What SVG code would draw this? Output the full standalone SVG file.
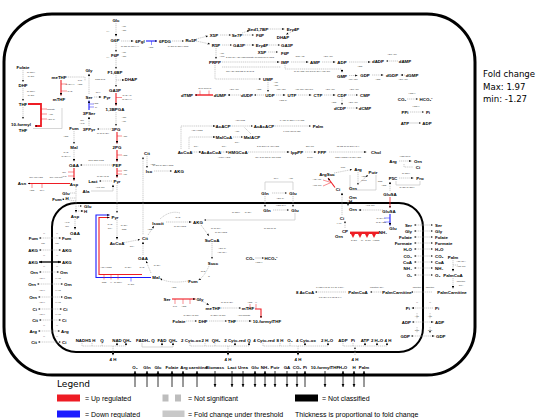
<svg xmlns="http://www.w3.org/2000/svg" width="538" height="418" viewBox="0 0 538 418">
<defs>
<marker id="a" viewBox="0 0 4 4" refX="4" refY="2" markerWidth="2.4" markerHeight="2.4" orient="auto-start-reverse" markerUnits="userSpaceOnUse"><path d="M0,.3L4,2L0,3.7z" fill="#000"/></marker>
<marker id="ar" viewBox="0 0 4 4" refX="4" refY="2" markerWidth="2.6" markerHeight="2.6" orient="auto-start-reverse" markerUnits="userSpaceOnUse"><path d="M0,.3L4,2L0,3.7z" fill="#000"/></marker>
<marker id="ak" viewBox="0 0 4 4" refX="4" refY="2" markerWidth="3.4" markerHeight="3.4" orient="auto-start-reverse" markerUnits="userSpaceOnUse"><path d="M0,.2L4,2L0,3.8z" fill="#000"/></marker>
</defs>
<style>
.m{font-family:"Liberation Sans",Arial,sans-serif;font-weight:bold;font-size:4.4px;text-anchor:middle;fill:#000}
.ml{font-family:"Liberation Sans",Arial,sans-serif;font-weight:bold;font-size:4.4px;text-anchor:end;fill:#000}
.mr{font-family:"Liberation Sans",Arial,sans-serif;font-weight:bold;font-size:4.4px;text-anchor:start;fill:#000}
.c{font-family:"Liberation Sans",Arial,sans-serif;font-size:2.3px;text-anchor:middle;fill:#333}
.g{fill:none;stroke:#a9a9a9;stroke-width:.6;stroke-dasharray:1.2 .7}
.s{fill:none;stroke:#c4c4c4;stroke-width:.7}
.r{fill:none;stroke:#ee1c24;stroke-width:1.1}
.rt{fill:none;stroke:#ee1c24;stroke-width:.5}
.bl{fill:none;stroke:#1a1aff;stroke-width:1.1}
.bt{fill:none;stroke:#1a1aff;stroke-width:.5}
.k{fill:none;stroke:#000;stroke-width:.8}
.e{marker-end:url(#a)}
.st{marker-start:url(#a)}
.ke{marker-end:url(#ak)}
.lg{font-family:"Liberation Sans",Arial,sans-serif;font-size:7px;fill:#000}
</style>
<rect width="538" height="418" fill="#fff"/>

<!-- compartments -->
<g id="cell"><rect x="4" y="14" width="471" height="361" rx="48" fill="none" stroke="#000" stroke-width="3"/></g>
<g id="mitochondrion"><rect x="52" y="203" width="371" height="149" rx="24" fill="none" stroke="#000" stroke-width="2"/></g>

<!-- connectors -->
<g id="connectors">
<!-- glycolysis -->
<path class="g e" d="M116,23V36.5"/>
<path class="g e" d="M116,43V52"/>
<path class="g e" d="M116,58V69"/>
<path class="g e" d="M116,75V87"/>
<path class="g e" d="M116,80H124.5"/>
<path class="r e" d="M116,93V105.5"/>
<path class="rt" d="M116,97.5H122"/>
<path class="g e" d="M116,112V126"/>
<path class="r e" d="M117,132V143.5"/>
<path class="rt" d="M117,136H122"/>
<path class="r e" d="M117,150V161.5"/>
<path class="rt" d="M117,155H122"/>
<path class="r e" d="M117,168V177.5"/>
<path class="rt" d="M117,171H122M117,174H122"/>
<path class="g e" d="M117,185V213"/>
<path class="g e" d="M112,181H99"/>
<path class="s e" d="M91,191H113V184.5"/>
<path class="g e" d="M112,165H80"/>
<!-- PPP -->
<path class="g e" d="M121,41H133.5"/>
<path class="bl e" d="M146,41H157"/>
<path class="bt" d="M151.5,41V45"/>
<path class="g e" d="M172,41H184"/>
<path class="g e" d="M196,39L208,36"/>
<path class="g e" d="M196,41L210,44"/>
<path class="g e" d="M220,35H231"/>
<path class="g e" d="M222,45H232"/>
<path class="g e" d="M242,33L249.5,30.5"/>
<path class="g e" d="M268,29H284.5"/>
<path class="g e" d="M243,35H254"/>
<path class="g e" d="M245,45H254.5"/>
<path class="g e" d="M269,45H280"/>
<path class="g e" d="M268,52H278"/>
<path class="g e" d="M291,32L286,34.5"/>
<path class="g e" d="M216,48V59"/>
<!-- nucleotides -->
<path class="g e" d="M222,62H279.5"/>
<path class="g e" d="M215,65V79H261"/>
<path class="g" d="M222,67H281"/>
<path class="g e" d="M285,65V69H342V72.5"/>
<path class="g e" d="M291,62H308.5"/>
<path class="g e" d="M322,62H335.5"/>
<path class="g e" d="M349,62H370.5"/>
<path class="g e" d="M398,61H386"/>
<path class="g e" d="M349,75.5H357.5"/>
<path class="g e" d="M372,75H383.5"/>
<path class="g e" d="M405,75H400.5"/>
<path class="g e" d="M268,82V92"/>
<path class="g e" d="M264,95H254"/>
<path class="g e" d="M241,95H227.5"/>
<path class="r e" d="M213,95H195" style="stroke-width:1.4"/>
<path class="rt" d="M200,95V90.5M209,95V90.5"/>
<path class="g e" d="M276,95H285.5"/>
<path class="g e" d="M298,95H311.5"/>
<path class="g e" d="M324,95H335.5"/>
<path class="g e" d="M348,95H358"/>
<path class="g e" d="M342,98V105"/>
<path class="g e" d="M347,108H358"/>
<path class="g e" d="M407,99H418"/>
<path class="g e" d="M410,112H424"/>
<path class="s e" d="M410,123H421"/>
<!-- fatty acids / cholesterol -->
<path class="g e" d="M181,149V126H215.5"/>
<path class="g e" d="M189,149V137H215.5"/>
<path class="g e" d="M230,126H253"/>
<path class="g e" d="M233,137H243"/>
<path class="g" d="M251,134L244,127"/>
<path class="g e" d="M275,126H311"/>
<path class="g e" d="M192,152H201.5"/>
<path class="g e" d="M221,152H228"/>
<path class="g e" d="M248,152H289.5"/>
<path class="g e" d="M305,152H316.5"/>
<path class="g e" d="M329,152H366.5"/>
<!-- citrate export -->
<path class="g e" d="M147,156V168"/>
<path class="g e" d="M154,171H172"/>
<path class="g st" d="M143,157V235"/>
<!-- serine / folate -->
<path class="g e" d="M111,129H97"/>
<path class="g e" d="M89,126V116.5"/>
<path class="bl e" d="M89,110V100.5"/>
<path class="bt" d="M89,104H94M89,107H94"/>
<path class="g e" d="M94,97H101.5"/>
<path class="g e" d="M89,94V73.5"/>
<path class="g" d="M66,77H85V81"/>
<path class="g e" d="M23,70V82"/>
<path class="g e" d="M23,88V101"/>
<path class="g e" d="M23,107V119"/>
<path class="r e" d="M28,104H41V126H35" style="stroke-width:1.8"/>
<path class="rt" d="M41,109H47M41,114H47M41,119H47"/>
<path class="s" d="M33,128.5H62V108"/>
<path class="r e" d="M61,80V95.5"/>
<path class="rt" d="M61,84H67M61,91H67"/>
<!-- TCA cytosol / aspartate -->
<path class="g e" d="M74,131V144"/>
<path class="g e" d="M74,150V161.5"/>
<path class="r e" d="M74,168V180.5"/>
<path class="rt" d="M74,172H68M74,176H68"/>
<path class="r e" d="M70,183.5H28"/>
<path class="rt" d="M32,183.5V188M42,183.5V188"/>
<path class="g e" d="M76,187V212.5"/>
<path class="g" d="M70,193H76M70,198H76"/>
<path class="g e" d="M76,201L62,199"/>
<path class="g e" d="M78,206H82"/>
<path class="g e" d="M78,211H83.5"/>
<path class="g e" d="M75,219V229.5"/>
<!-- mitochondrial TCA -->
<path class="g e" d="M117,220V239.5"/>
<path class="bl e" d="M151,277.5H96V215H109.5"/>
<path class="r e" d="M142,274.5H99V217.5H109.5"/>
<path class="rt" d="M104,274.5V279.5M111,274.5V279.5M118,274.5V279.5"/>
<path class="bt" d="M131,277.5V281.5"/>
<path class="g e" d="M122,243L140,239.5"/>
<path class="g e" d="M143,255V241.5"/>
<path class="g e" d="M148,235L154,226"/>
<path class="g e" d="M166,222H191.5"/>
<path class="g e" d="M201,225L209,236"/>
<path class="g e" d="M212,243V259"/>
<path class="g e" d="M209,266Q204,277 198.5,280"/>
<path class="g e" d="M188,281Q170,284 160,278.5"/>
<path class="g e" d="M151,273L146,261"/>
<path class="g" d="M160,219Q170,210 180,213"/>
<!-- glutamine -->
<path class="g e" d="M272,193H287"/>
<path class="s" d="M265,190V182H293V190"/>
<path class="g e" d="M265,196V207"/>
<path class="g e" d="M293,196V207"/>
<path class="g e" d="M273,210H289"/>
<path class="s e" d="M295,213V220H204"/>
<path class="s e" d="M255,258H264"/>
<!-- urea / proline -->
<path class="g e" d="M345,228V221"/>
<rect x="350" y="231.6" width="29" height="2.4" fill="#ee1c24"/>
<path d="M351,234l2,4l2,-4zM358,234l2,4l2,-4zM365,234l2,4l2,-4zM372,234l2,4l2,-4z" fill="#ee1c24"/>
<path class="g e" d="M342,215V192.5"/>
<path class="g e" d="M348,200V206"/>
<path class="r e" d="M335,187.5L328,178"/>
<path class="rt" d="M331,182.5L323,180M331,182.5L323,186"/>
<path class="g e" d="M334,173L352,169.5"/>
<path class="g e" d="M358,172V185"/>
<path class="g e" d="M357,185L368,175"/>
<path class="s" d="M350,175V190H376V175"/>
<path class="g e" d="M399,161H411.5"/>
<path class="g" d="M404,164V167H413"/>
<path class="g e" d="M399,178H413.5"/>
<path class="s" d="M396,181V185H420V181"/>
<path class="g e" d="M390,191V181.5"/>
<path class="r e" d="M390,197V208" style="stroke-width:.8"/>
<path class="bl e" d="M390,214V225.5"/>
<path class="bt" d="M390,218H384M390,222H384"/>
<path class="g e" d="M383,210H358.5"/>
<!-- right transport -->
<path class="g e st" d="M414,225H433"/>
<path class="g e st" d="M414,231H433"/>
<path class="g e st" d="M414,237H433"/>
<path class="g e st" d="M414,243H433"/>
<path class="g e st" d="M414,249H433"/>
<path class="g e st" d="M414,256H433"/>
<path class="g e st" d="M414,262H433"/>
<path class="g e st" d="M414,268H433"/>
<path class="g e st" d="M414,275H433"/>
<path class="g e" d="M453,260V271.5"/>
<path class="g" d="M453,265H458"/>
<path class="g e" d="M453,278V288.5"/>
<path class="g e" d="M432,292H411"/>
<path class="g e" d="M383,292H370"/>
<path class="g e" d="M346,292H315"/>
<path class="g e" d="M433,308H411.5"/>
<path class="g e st" d="M412,322H433.5"/>
<path class="g e st" d="M411,336H434.5"/>
<path class="g e" d="M417,313V319M430,313V319M417,327V333M430,327V333"/>
<!-- mito folate -->
<path class="r e" d="M172,299H195.5"/>
<path class="rt" d="M175,299V304M183,299V304M190,299V304"/>
<path class="g e" d="M203,301.5L209,305"/>
<path class="g e" d="M219,308H241"/>
<path class="r e" d="M255,309H261V318" />
<path class="rt" d="M250,309V304M256,309V304"/>
<path class="g e" d="M186,321H197"/>
<path class="g e" d="M209,321H227"/>
<path class="g e" d="M237,321H251.5"/>
<!-- mito left transport -->
<path class="g e st" d="M39,238H61"/>
<path class="g e st" d="M39,250H61"/>
<path class="k ke" d="M39,262H61" style="stroke-width:1.3;marker-start:url(#ak)"/>
<path class="g e st" d="M39,272H59"/>
<path class="g e st" d="M37,284H63"/>
<path class="g e st" d="M38,297H63"/>
<path class="g e st" d="M38,309H62"/>
<path class="g e st" d="M39,320H61"/>
<path class="g e st" d="M38,331H60"/>
<path class="g e st" d="M38,342H61"/>
<!-- respiratory chain -->
<path class="g" d="M82,343V346H126M92,346V343M102,346V343"/>
<path class="g e" d="M117,346V342.5"/>
<path class="g e" d="M126,346V342.5"/>
<path class="g e" d="M113,346V355.5"/>
<path class="s" d="M142,343V347H173"/>
<path class="s e" d="M162,347V342.5"/>
<path class="s e" d="M173,347V342.5"/>
<path class="g" d="M190,343V346H249M205,346V343M215,346V343"/>
<path class="g e" d="M235,346V342.5"/>
<path class="g e" d="M249,346V342.5"/>
<path class="g e" d="M228,346V355.5"/>
<path class="g" d="M263,343V346H328M280,346V343M290,346V343"/>
<path class="g e" d="M305,346V342.5"/>
<path class="g e" d="M328,346V342.5"/>
<path class="g e" d="M298,346V355.5"/>
<path class="g" d="M343,343V346H387M353,346V343"/>
<path class="g e" d="M365,346V342.5"/>
<path class="g e" d="M377,346V342.5"/>
<path class="g e" d="M387,346V342.5"/>
<path class="g e" d="M355,355V347"/>
<!-- exchange -->
<path class="k ke" d="M135,387V371"/>
<path class="k ke" d="M147,387V371"/>
<path class="k ke" d="M158,387V371"/>
<path class="k ke" d="M172,387V371"/>
<path class="k ke" d="M183,387V371"/>
<path class="k ke" d="M197,387V371"/>
<path class="k ke" d="M215,371V387"/>
<path class="k ke" d="M232,371V387"/>
<path class="k ke" d="M243,371V387"/>
<path class="k ke" d="M255,371V387" style="marker-start:url(#ak)"/>
<path class="k ke" d="M265,371V387" style="marker-start:url(#ak)"/>
<path class="k ke" d="M275,371V387"/>
<path class="k ke" d="M287,371V387"/>
<path class="k ke" d="M297,371V387"/>
<path class="k ke" d="M305,387V371"/>
<path class="k ke" d="M325,371V387"/>
<path class="k ke" d="M343,371V387" style="marker-start:url(#ak)"/>
<path class="k ke" d="M354,371V387" style="marker-start:url(#ak)"/>
<path class="k ke" d="M364,387V371"/>
</g>

<!-- cofactor labels -->
<g id="cofactors">
<text class="c" x="124" y="27">ATP</text><text class="c" x="124" y="31">ADP</text><text class="c" x="108" y="32">H+</text>
<text class="c" x="124" y="53">ATP</text><text class="c" x="124" y="57">ADP</text><text class="c" x="108" y="58">H+</text>
<text class="c" x="127" y="96">NAD+ Pi</text><text class="c" x="127" y="100">NADH+H</text>
<text class="c" x="124" y="118">ADP</text><text class="c" x="124" y="122">ATP</text>
<text class="c" x="125" y="137">ADP</text><text class="c" x="125" y="156">H2O</text>
<text class="c" x="125" y="171">ADP</text><text class="c" x="125" y="175">ATP</text>
<text class="c" x="130" y="47">NADP NADPH+H</text><text class="c" x="151" y="48">H2O</text>
<text class="c" x="178" y="47">NADP NADPH CO2</text>
<text class="c" x="222" y="54">ATP</text><text class="c" x="222" y="57">AMP</text>
<text class="c" x="250" y="58">2 Gln  Gly  Asp  H2O  formate  10-formylTHF  CO2</text>
<text class="c" x="240" y="72">Gln  Asp  H2O  O2  NAD  QH2</text>
<text class="c" x="300" y="57">GTP Asp</text><text class="c" x="328" y="57">ADP ATP</text>
<text class="c" x="312" y="72">NAD H2O ATP Gln  NADH AMP Glu</text>
<text class="c" x="360" y="67">H2O</text><text class="c" x="392" y="55">ADP ATP</text>
<text class="c" x="353" y="80">ATP ADP</text><text class="c" x="378" y="80">H2O</text><text class="c" x="403" y="80">ADP ATP</text>
<text class="c" x="276" y="83">ATP</text><text class="c" x="276" y="86">ADP</text>
<text class="c" x="259" y="90">H2O</text><text class="c" x="234" y="90">ADP ATP</text>
<text class="c" x="205" y="89">DHF meTHF</text>
<text class="c" x="281" y="90">ATP ADP</text><text class="c" x="304" y="90">ATP Gln ADP Glu</text>
<text class="c" x="330" y="90">ADP ATP</text><text class="c" x="354" y="90">ADP ATP</text>
<text class="c" x="283" y="101">H2O Pi</text><text class="c" x="334" y="103">H2O</text><text class="c" x="353" y="103">ADP ATP</text>
<text class="c" x="412" y="94">H2O H</text><text class="c" x="416" y="107">H2O H</text>
<text class="c" x="197" y="131">ATP HCO3</text><text class="c" x="240" y="121">ACP CO2</text>
<text class="c" x="237" y="132">ACP</text><text class="c" x="237" y="143">CoA</text>
<text class="c" x="292" y="121">7 ACP NADPH H 6 H2O</text><text class="c" x="292" y="132">6 MalACP NADP</text>
<text class="c" x="196" y="147">CoA</text><text class="c" x="224" y="147">CoA</text><text class="c" x="224" y="158">AcCoA H2O</text>
<text class="c" x="268" y="147">2 NADPH 3 ATP H2O</text><text class="c" x="268" y="158">CoA 2 NADP 3 ADP CO2</text>
<text class="c" x="310" y="147">DMAPP</text><text class="c" x="310" y="158">2 PPi</text>
<text class="c" x="348" y="147">13 O2 10 NADPH 3 H</text><text class="c" x="348" y="158">CO2 HCOOH NADP H2O</text>
<text class="c" x="153" y="165">H2O</text><text class="c" x="163" y="166">NADP NADPH CO2</text>
<text class="c" x="103" y="177">NADH NAD</text><text class="c" x="100" y="188">AKG Glu</text>
<text class="c" x="96" y="161">GTP GDP CO2</text>
<text class="c" x="103" y="134">NAD NADH</text><text class="c" x="82" y="121">Glu</text><text class="c" x="82" y="124">AKG</text>
<text class="c" x="96" y="104">H2O</text><text class="c" x="96" y="108">Pi</text><text class="c" x="98" y="93">NH4</text>
<text class="c" x="80" y="81">THF</text><text class="c" x="80" y="85">H2O</text><text class="c" x="100" y="80">CO2 NH3</text>
<text class="c" x="31" y="73">NADPH</text><text class="c" x="31" y="77">NADP</text>
<text class="c" x="31" y="92">NADPH</text><text class="c" x="31" y="96">NADP</text>
<text class="c" x="51" y="110">formate</text><text class="c" x="51" y="115">ATP</text><text class="c" x="51" y="120">ADP Pi</text>
<text class="c" x="70" y="85">NADH H</text><text class="c" x="70" y="92">NAD</text>
<text class="c" x="66" y="137">H2O</text><text class="c" x="66" y="153">NAD</text><text class="c" x="66" y="157">NADH H</text>
<text class="c" x="64" y="173">Glu</text><text class="c" x="64" y="177">AKG</text>
<text class="c" x="36" y="178">Gln ATP H2O</text><text class="c" x="56" y="178">Glu AMP PPi</text>
<text class="c" x="32" y="191">H2O</text><text class="c" x="42" y="191">NH4</text>
<text class="c" x="67" y="223">AKG</text><text class="c" x="67" y="227">Glu</text>
<text class="c" x="110" y="225">NAD</text><text class="c" x="110" y="229">CoA</text><text class="c" x="124" y="226">NADH</text><text class="c" x="124" y="230">CO2</text>
<text class="c" x="106" y="268">ATP HCO3</text><text class="c" x="128" y="268">NADH</text>
<text class="c" x="104" y="283">CO2</text><text class="c" x="111" y="283">H</text><text class="c" x="118" y="283">NADPH</text><text class="c" x="131" y="285">NADP</text>
<text class="c" x="132" y="247">CoA</text><text class="c" x="150" y="230">H2O</text>
<text class="c" x="178" y="218">NAD</text><text class="c" x="180" y="227">NADH CO2</text>
<text class="c" x="216" y="229">NAD CoA</text><text class="c" x="221" y="233">NADH CO2</text>
<text class="c" x="222" y="249">ADP Pi</text><text class="c" x="222" y="253">ATP CoA</text>
<text class="c" x="209" y="277">Q</text><text class="c" x="203" y="272">QH2</text>
<text class="c" x="174" y="288">H2O</text><text class="c" x="142" y="268">NAD</text><text class="c" x="157" y="266">NADH</text>
<text class="c" x="236" y="213">NADPH</text><text class="c" x="248" y="213">NADH</text>
<text class="c" x="281" y="206">H2O NH4</text><text class="c" x="270" y="229">NADP NAD</text>
<text class="c" x="276" y="179">NH4</text><text class="c" x="291" y="179">ATP</text><text class="c" x="280" y="199">ADP Pi</text>
<text class="c" x="259" y="263">H2O H</text>
<text class="c" x="317" y="180">Asp ATP</text><text class="c" x="317" y="186">AMP PPi</text><text class="c" x="343" y="168">Fum</text>
<text class="c" x="364" y="177">H2O</text><text class="c" x="364" y="181">Urea</text><text class="c" x="380" y="182">CO2</text>
<text class="c" x="405" y="157">H2O Urea</text><text class="c" x="406" y="174">NADPH</text><text class="c" x="407" y="188">NADP NADPH</text>
<text class="c" x="384" y="186">H2O</text>
<text class="c" x="370" y="206">AKG Glu</text>
<text class="c" x="381" y="219">NADH H</text><text class="c" x="381" y="223">NAD H2O</text>
<text class="c" x="339" y="224">H Pi</text>
<text class="c" x="354" y="241">2ADP</text><text class="c" x="362" y="241">Pi</text><text class="c" x="368" y="241">2ATP</text><text class="c" x="376" y="241">HCO3</text>
<text class="c" x="461" y="262">ATP CoA</text><text class="c" x="461" y="267">AMP PPi</text>
<text class="c" x="461" y="282">carnitine</text><text class="c" x="461" y="286">CoA</text>
<text class="c" x="417" y="288">carnitine</text><text class="c" x="430" y="288">carnitine</text>
<text class="c" x="377" y="288">carnitine CoA</text>
<text class="c" x="330" y="288">7 H2O 7 NAD 7 FAD 7 CoA</text><text class="c" x="330" y="298">7 NADH 7 FADH2 7 H</text>
<text class="c" x="417" y="303">H</text><text class="c" x="430" y="303">H</text>
<text class="c" x="417" y="317">ATP</text><text class="c" x="430" y="317">ATP</text>
<text class="c" x="417" y="331">GTP</text><text class="c" x="430" y="331">GTP</text>
<text class="c" x="175" y="307">THF</text><text class="c" x="184" y="307">H2O</text>
<text class="c" x="227" y="303">NAD NADH</text><text class="c" x="250" y="303">H2O</text><text class="c" x="256" y="303">H</text>
<text class="c" x="191" y="316">NADPH NADP</text><text class="c" x="218" y="316">NADPH NADP</text><text class="c" x="244" y="316">ATP formate</text>
<text class="c" x="44" y="234">H</text><text class="c" x="57" y="234">H</text>
<text class="c" x="43" y="244">Mal</text><text class="c" x="57" y="244">Mal</text>
<text class="c" x="44" y="256">H</text><text class="c" x="57" y="256">H</text>
<text class="c" x="44" y="267">H</text><text class="c" x="57" y="267">H</text>
<text class="c" x="42" y="279">Arg H</text><text class="c" x="58" y="279">H Arg</text>
<text class="c" x="42" y="291">Arg H</text><text class="c" x="58" y="291">H Arg</text>
<text class="c" x="42" y="303">Arg H</text><text class="c" x="58" y="303">H Arg</text>
<text class="c" x="42" y="315">Arg H</text><text class="c" x="58" y="315">H Arg</text>
<text class="c" x="44" y="326">H</text><text class="c" x="57" y="326">H</text>
<text class="c" x="44" y="337">H</text><text class="c" x="57" y="337">H</text>
</g>

<!-- cytosol nodes -->
<g id="n-glc"><text class="m" x="116" y="21.6">Glc</text></g>
<g id="n-g6p"><text class="m" x="115" y="41.6">G6P</text></g>
<g id="n-6pgl"><text class="m" x="140" y="42.6">6Pgl</text></g>
<g id="n-6pdg"><text class="m" x="165" y="42.6">6PDG</text></g>
<g id="n-ru5p"><text class="m" x="191" y="41.6">Ru5P</text></g>
<g id="n-x5p"><text class="m" x="214" y="36.6">X5P</text></g>
<g id="n-r5p"><text class="m" x="216" y="46.6">R5P</text></g>
<g id="n-se7p"><text class="m" x="237" y="36.6">Se7P</text></g>
<g id="n-ga3p2"><text class="m" x="239" y="46.6">GA3P</text></g>
<g id="n-sed17bp"><text class="m" x="258" y="30.6">Sed1,7BP</text></g>
<g id="n-ery4p1"><text class="m" x="293" y="30.6">Ery4P</text></g>
<g id="n-f6p2"><text class="m" x="260" y="36.6">F6P</text></g>
<g id="n-dhap2"><text class="m" x="283" y="38.6">DHAP</text></g>
<g id="n-ery4p2"><text class="m" x="262" y="46.6">Ery4P</text></g>
<g id="n-ga3p3"><text class="m" x="287" y="46.6">GA3P</text></g>
<g id="n-x5p2"><text class="m" x="262" y="53.6">X5P</text></g>
<g id="n-f6p3"><text class="m" x="285" y="54.6">F6P</text></g>
<g id="n-prpp"><text class="m" x="215" y="63.6">PRPP</text></g>
<g id="n-imp"><text class="m" x="285" y="63.6">IMP</text></g>
<g id="n-amp"><text class="m" x="315" y="63.6">AMP</text></g>
<g id="n-adp"><text class="m" x="342" y="63.6">ADP</text></g>
<g id="n-dadp"><text class="m" x="378" y="62.6">dADP</text></g>
<g id="n-damp"><text class="m" x="405" y="62.6">dAMP</text></g>
<g id="n-gmp"><text class="m" x="342" y="77.6">GMP</text></g>
<g id="n-gdp"><text class="m" x="365" y="76.6">GDP</text></g>
<g id="n-dgdp"><text class="m" x="392" y="76.6">dGDP</text></g>
<g id="n-dgmp"><text class="m" x="412" y="76.6">dGMP</text></g>
<g id="n-ump"><text class="m" x="268" y="80.6">UMP</text></g>
<g id="n-dtmp"><text class="m" x="187" y="96.6">dTMP</text></g>
<g id="n-dump"><text class="m" x="220" y="96.6">dUMP</text></g>
<g id="n-dudp"><text class="m" x="247" y="96.6">dUDP</text></g>
<g id="n-udp"><text class="m" x="270" y="96.6">UDP</text></g>
<g id="n-utp"><text class="m" x="292" y="96.6">UTP</text></g>
<g id="n-ctp"><text class="m" x="318" y="96.6">CTP</text></g>
<g id="n-cdp"><text class="m" x="342" y="96.6">CDP</text></g>
<g id="n-cmp"><text class="m" x="365" y="96.6">CMP</text></g>
<g id="n-dcdp"><text class="m" x="340" y="109.6">dCDP</text></g>
<g id="n-dcmp"><text class="m" x="365" y="109.6">dCMP</text></g>
<g id="n-co2"><text class="m" x="402" y="100.6">CO₂</text></g>
<g id="n-hco3"><text class="m" x="426" y="100.6">HCO₃⁻</text></g>
<g id="n-ppi"><text class="m" x="405" y="113.6">PPi</text></g>
<g id="n-pi"><text class="m" x="428" y="113.6">Pi</text></g>
<g id="n-atp"><text class="m" x="405" y="124.6">ATP</text></g>
<g id="n-adp2"><text class="m" x="427" y="124.6">ADP</text></g>
<g id="n-f6p"><text class="m" x="115" y="56.6">F6P</text></g>
<g id="n-f16bp"><text class="m" x="115" y="73.6">F1,6BP</text></g>
<g id="n-dhap"><text class="m" x="131" y="80.6">DHAP</text></g>
<g id="n-ga3p"><text class="m" x="115" y="91.6">GA3P</text></g>
<g id="n-13bpga"><text class="m" x="115" y="110.6">1,3BPGA</text></g>
<g id="n-3pg"><text class="m" x="116" y="130.6">3PG</text></g>
<g id="n-2pg"><text class="m" x="117" y="148.6">2PG</text></g>
<g id="n-pep"><text class="m" x="117" y="166.6">PEP</text></g>
<g id="n-pyr"><text class="m" x="117" y="182.6">Pyr</text></g>
<g id="n-lact"><text class="m" x="93" y="182.6">Lact</text></g>
<g id="n-ala"><text class="m" x="86" y="192.6">Ala</text></g>
<g id="n-folate"><text class="m" x="23" y="68.6">Folate</text></g>
<g id="n-dhf"><text class="m" x="23" y="86.6">DHF</text></g>
<g id="n-thf"><text class="m" x="23" y="105.6">THF</text></g>
<g id="n-10fthf"><text class="m" x="21" y="125.6">10-formyl</text><text class="m" x="23" y="131.6">THF</text></g>
<g id="n-methf"><text class="m" x="59" y="78.6">meTHF</text></g>
<g id="n-mthf"><text class="m" x="59" y="100.6">mTHF</text></g>
<g id="n-gly"><text class="m" x="89" y="71.6">Gly</text></g>
<g id="n-ser"><text class="m" x="89" y="98.6">Ser</text></g>
<g id="n-pyr2"><text class="m" x="107" y="98.6">Pyr</text></g>
<g id="n-3pser"><text class="m" x="89" y="114.6">3PSer</text></g>
<g id="n-3ppyr"><text class="m" x="89" y="130.6">3PPyr</text></g>
<g id="n-fum"><text class="m" x="74" y="129.6">Fum</text></g>
<g id="n-mal"><text class="m" x="74" y="148.6">Mal</text></g>
<g id="n-oaa"><text class="m" x="74" y="166.6">OAA</text></g>
<g id="n-asp"><text class="m" x="74" y="185.6">Asp</text></g>
<g id="n-asn"><text class="m" x="22" y="185">Asn</text></g>
<g id="n-glu-c"><text class="m" x="66" y="194.6">Glu</text><text class="m" x="67" y="199.6">H</text></g>
<g id="n-fum2"><text class="m" x="57" y="200.6">Fum</text></g>
<g id="n-cit"><text class="m" x="147" y="154.6">Cit</text></g>
<g id="n-iso"><text class="m" x="149" y="172.6">Iso</text></g>
<g id="n-akg"><text class="m" x="179" y="172.6">AKG</text></g>
<g id="n-acacp"><text class="m" x="223" y="127.6">AcACP</text></g>
<g id="n-acacacp"><text class="m" x="264" y="127.6">AcAcACP</text></g>
<g id="n-palm"><text class="m" x="318" y="127.6">Palm</text></g>
<g id="n-malcoa"><text class="m" x="224" y="138.6">MalCoA</text></g>
<g id="n-malacp"><text class="m" x="252" y="138.6">MalACP</text></g>
<g id="n-accoa"><text class="m" x="185" y="153.6">AcCoA</text></g>
<g id="n-acacoa"><text class="m" x="211" y="153.6">AcAcCoA</text></g>
<g id="n-hmgcoa"><text class="m" x="238" y="153.6">HMGCoA</text></g>
<g id="n-ipppp"><text class="m" x="297" y="153.6">IppPP</text></g>
<g id="n-fpp"><text class="m" x="322" y="153.6">FPP</text></g>
<g id="n-chol"><text class="m" x="376" y="153.6">Chol</text></g>
<g id="n-argsuc"><text class="m" x="327" y="175.6">ArgSuc</text></g>
<g id="n-ci"><text class="m" x="338" y="190.6">Ci</text></g>
<g id="n-gln"><text class="m" x="265" y="194.6">Gln</text></g>
<g id="n-glu"><text class="m" x="293" y="194.6">Glu</text></g>
<g id="n-orn"><text class="mr" x="349" y="198.6">Orn</text><text class="mr" x="349" y="203">H</text></g>
<g id="n-arg"><text class="m" x="358" y="170.6">Arg</text></g>
<g id="n-putr"><text class="m" x="373" y="173.6">Putr</text></g>
<g id="n-orn2"><text class="m" x="353" y="189.6">Orn</text></g>
<g id="n-arg2"><text class="m" x="393" y="162.6">Arg</text></g>
<g id="n-orn3"><text class="m" x="418" y="162.6">Orn</text></g>
<g id="n-ci2"><text class="m" x="418" y="168.6">Ci</text></g>
<g id="n-p5c"><text class="m" x="393" y="179.6">P5C</text></g>
<g id="n-pro"><text class="m" x="420" y="179.6">Pro</text></g>
<g id="n-glusa"><text class="m" x="390" y="195.6">GluSA</text></g>

<!-- mitochondrial nodes -->
<g id="m-glu"><text class="mr" x="84" y="207.6">Glu</text><text class="mr" x="84" y="212.6">H</text></g>
<g id="m-asp"><text class="m" x="75" y="217.6">Asp</text></g>
<g id="m-oaa"><text class="m" x="75" y="234.6">OAA</text></g>
<g id="m-pyr"><text class="m" x="115" y="218.6">Pyr</text></g>
<g id="m-accoa"><text class="m" x="117" y="244.6">AcCoA</text></g>
<g id="m-cit"><text class="m" x="145" y="239.6">Cit</text></g>
<g id="m-isocit"><text class="m" x="158" y="224.6">Isocit</text></g>
<g id="m-akg"><text class="m" x="198" y="223.6">AKG</text></g>
<g id="m-sucoa"><text class="m" x="212" y="241.6">SuCoA</text></g>
<g id="m-succ"><text class="m" x="213" y="264.6">Succ</text></g>
<g id="m-fum"><text class="m" x="193" y="282.6">Fum</text></g>
<g id="m-mal"><text class="m" x="156" y="278.6">Mal</text></g>
<g id="m-oaa2"><text class="m" x="143" y="259.6">OAA</text></g>
<g id="m-co2"><text class="m" x="250" y="259.6">CO₂</text></g>
<g id="m-hco3"><text class="m" x="271" y="259.6">HCO₃⁻</text></g>
<g id="m-gln"><text class="m" x="267" y="211.6">Gln</text></g>
<g id="m-glu2"><text class="m" x="295" y="211.6">Glu</text></g>
<g id="m-ci"><text class="m" x="342" y="219.6">Ci</text></g>
<g id="m-cp"><text class="m" x="345" y="232.6">CP</text></g>
<g id="m-orn"><text class="m" x="339" y="237.6">Orn</text></g>
<g id="m-orn2"><text class="m" x="353" y="210.6">Orn</text></g>
<g id="m-glusa"><text class="m" x="389" y="212.6">GluSA</text></g>
<g id="m-glu3"><text class="m" x="393" y="229.6">Glu</text></g>
<g id="m-nh4"><text class="m" x="383" y="233.6">NH₄</text></g>
<g id="m-ser"><text class="m" x="167" y="300.6">Ser</text></g>
<g id="m-gly"><text class="m" x="200" y="300.6">Gly</text></g>
<g id="m-methf"><text class="m" x="213" y="309.6">meTHF</text></g>
<g id="m-mthf"><text class="m" x="248" y="309.6">mTHF</text></g>
<g id="m-folate"><text class="m" x="179" y="322.6">Folate</text></g>
<g id="m-dhf"><text class="m" x="203" y="322.6">DHF</text></g>
<g id="m-thf"><text class="m" x="232" y="322.6">THF</text></g>
<g id="m-10fthf"><text class="m" x="267" y="322.6">10-formylTHF</text></g>
<g id="m-8accoa"><text class="m" x="305" y="293.6">8 AcCoA</text></g>
<g id="m-palmcoa"><text class="m" x="358" y="293.6">PalmCoA</text></g>
<g id="m-palmcarn"><text class="m" x="397" y="293.6">PalmCarnitine</text></g>
<g id="n-palmcarn"><text class="m" x="452" y="293.6">PalmCarnitine</text></g>
<g id="n-palmcoa"><text class="m" x="453" y="276.6">PalmCoA</text></g>
<g id="n-palm2"><text class="m" x="453" y="258.6">Palm</text></g>

<!-- right side transport labels -->
<g id="t-right">
<text class="ml" x="412" y="226.6">Ser</text><text class="mr" x="435" y="226.6">Ser</text>
<text class="ml" x="412" y="232.6">Gly</text><text class="mr" x="435" y="232.6">Gly</text>
<text class="ml" x="412" y="238.6">Folate</text><text class="mr" x="435" y="238.6">Folate</text>
<text class="ml" x="412" y="244.6">Formate</text><text class="mr" x="435" y="244.6">Formate</text>
<text class="ml" x="412" y="250.6">H₂O</text><text class="mr" x="435" y="250.6">H₂O</text>
<text class="ml" x="412" y="257.6">CO₂</text><text class="mr" x="435" y="257.6">CO₂</text>
<text class="ml" x="412" y="263.6">CoA</text><text class="mr" x="435" y="263.6">CoA</text>
<text class="ml" x="412" y="269.6">NH₄</text><text class="mr" x="435" y="269.6">NH₄</text>
<text class="ml" x="412" y="276.6">O₂</text><text class="mr" x="435" y="276.6">O₂</text>
<text class="ml" x="410" y="309.6">Pi</text><text class="mr" x="435" y="309.6">Pi</text>
<text class="ml" x="411" y="323.6">ADP</text><text class="mr" x="435" y="323.6">ADP</text>
<text class="ml" x="410" y="337.6">GDP</text><text class="mr" x="436" y="337.6">GDP</text>
</g>

<!-- left side transport labels -->
<g id="t-left">
<text class="ml" x="38" y="239.6">Fum</text><text class="mr" x="62" y="239.6">Fum</text>
<text class="ml" x="38" y="251.6">AKG</text><text class="mr" x="62" y="251.6">AKG</text>
<text class="ml" x="38" y="263.6">AKG</text><text class="mr" x="62" y="263.6">AKG</text>
<text class="ml" x="38" y="273.6">Orn</text><text class="mr" x="60" y="273.6">Orn</text>
<text class="ml" x="36" y="285.6">Orn</text><text class="mr" x="64" y="285.6">Orn</text>
<text class="ml" x="37" y="298.6">Orn</text><text class="mr" x="64" y="298.6">Orn</text>
<text class="ml" x="37" y="310.6">Ci</text><text class="mr" x="63" y="310.6">Ci</text>
<text class="ml" x="38" y="321.6">Cit</text><text class="mr" x="62" y="321.6">Ci</text>
<text class="ml" x="37" y="332.6">Arg</text><text class="mr" x="61" y="332.6">Arg</text>
<text class="ml" x="37" y="343.6">Cit</text><text class="mr" x="62" y="343.6">Ci</text>
</g>

<!-- respiratory chain labels -->
<g id="etc">
<text class="m" x="82" y="341.6">NADH</text><text class="m" x="92" y="341.6">5 H</text><text class="m" x="102" y="341.6">Q</text>
<text class="m" x="117" y="341.6">NAD</text><text class="m" x="127" y="341.6">QH₂</text>
<text class="m" x="143" y="341.6">FADH₂</text><text class="m" x="153" y="341.6">Q</text><text class="m" x="162" y="341.6">FAD</text><text class="m" x="173" y="341.6">QH₂</text>
<text class="m" x="191" y="341.6">2 Cytc-ox</text><text class="m" x="205" y="341.6">2 H</text><text class="m" x="216" y="341.6">QH₂</text>
<text class="m" x="235" y="341.6">2 Cytc-red</text><text class="m" x="249" y="341.6">Q</text>
<text class="m" x="264" y="341.6">4 Cytc-red</text><text class="m" x="280" y="341.6">8 H</text><text class="m" x="290" y="341.6">O₂</text>
<text class="m" x="306" y="341.6">4 Cytc-ox</text><text class="m" x="327" y="341.6">2 H₂O</text>
<text class="m" x="343" y="341.6">ADP</text><text class="m" x="353" y="341.6">Pi</text><text class="m" x="365" y="341.6">ATP</text><text class="m" x="377" y="341.6">2 H₂O</text><text class="m" x="388" y="341.6">4 H</text>
<text class="m" x="113" y="360.6">4 H</text><text class="m" x="228" y="360.6">4 H</text><text class="m" x="298" y="360.6">4 H</text><text class="m" x="355" y="360.6">4 H</text>
</g>

<!-- exchange labels -->
<g id="exchange">
<text class="m" x="135" y="368.6">O₂</text><text class="m" x="147" y="368.6">Gln</text><text class="m" x="158" y="368.6">Glc</text>
<text class="m" x="172" y="368.6">Folate</text><text class="m" x="184" y="368.6">Arg</text><text class="m" x="198" y="368.6">carnitine</text>
<text class="m" x="215" y="368.6">Biomass</text><text class="m" x="232" y="368.6">Lact</text><text class="m" x="243" y="368.6">Urea</text>
<text class="m" x="255" y="368.6">Glu</text><text class="m" x="265" y="368.6">NH₄</text><text class="m" x="275" y="368.6">Putr</text>
<text class="m" x="287" y="368.6">GA</text><text class="m" x="297" y="368.6">CO₂</text><text class="m" x="305" y="368.6">Pi</text>
<text class="m" x="325" y="368.6">10-formylTHF</text><text class="m" x="343" y="368.6">H₂O</text><text class="m" x="354" y="368.6">H</text><text class="m" x="364" y="368.6">Palm</text>
</g>

<!-- fold change -->
<g id="foldchange" font-family="'DejaVu Sans','Liberation Sans',sans-serif" font-size="8.6px" fill="#000">
<text x="483" y="76.5">Fold change</text>
<text x="483" y="89.5">Max:  1.97</text>
<text x="483" y="101.5">min: -1.27</text>
</g>

<!-- legend -->
<g id="legend">
<text x="57" y="387" font-family="'DejaVu Sans','Liberation Sans',sans-serif" font-size="9px">Legend</text>
<rect x="57" y="394.5" width="23" height="7" fill="#ee1c24"/>
<text class="lg" x="85" y="400.5">= Up regulated</text>
<rect x="57" y="410.5" width="23" height="7" fill="#1a1aff"/>
<text class="lg" x="85" y="416.5">= Down regulated</text>
<rect x="162.5" y="394.5" width="6" height="7" fill="#bdbdbd"/>
<rect x="175" y="394.5" width="6" height="7" fill="#bdbdbd"/>
<text class="lg" x="188" y="400.5">= Not significant</text>
<rect x="162.5" y="410.5" width="22" height="6.5" fill="#c8c8c8"/>
<text class="lg" x="188" y="416.5">= Fold change under threshold</text>
<rect x="295" y="394.5" width="23" height="7" fill="#000"/>
<text class="lg" x="322" y="400.5">= Not classified</text>
<text class="lg" x="295" y="416.5">Thickness is proportional to fold change</text>
</g>
</svg>
